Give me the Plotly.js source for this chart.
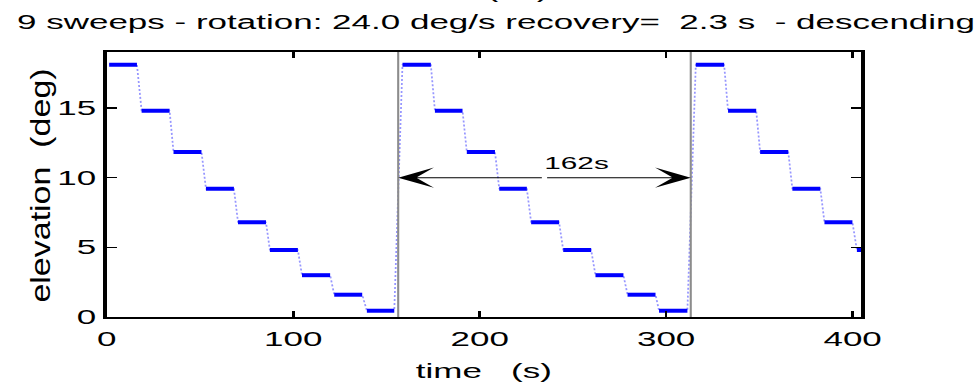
<!DOCTYPE html>
<html>
<head>
<meta charset="utf-8">
<script src="https://cdn.plot.ly/plotly-3.0.1.min.js"></script>
<style>
  html, body { margin: 0; padding: 0; overflow: hidden; background: #fff; }
  #wrap { width: 975px; height: 382px; overflow: hidden; }
  #chart { transform-origin: 0 0; }
</style>
</head>
<body>
<div id="wrap"><div id="chart"></div></div>
<script>
// ---- data ----
const stepStart = [1.3, 18.7, 35.8, 53.2, 70.4, 87.5, 104.7, 122.0, 139.5,
                   158.6, 176.0, 193.1, 210.5, 227.6, 244.8, 262.1, 279.3, 296.2,
                   315.9, 333.2, 350.4, 367.7, 384.9, 402.3];
const stepEnd   = [16.2, 33.7, 50.8, 68.2, 85.4, 102.5, 119.8, 137.0, 154.2,
                   173.8, 190.8, 208.2, 225.3, 242.6, 259.8, 277.1, 294.3, 311.4,
                   331.1, 348.3, 365.5, 382.7, 399.9, 417.0];
const stepElev  = [18.1, 14.8, 11.85, 9.2, 6.8, 4.8, 3.0, 1.6, 0.45,
                   18.1, 14.8, 11.85, 9.2, 6.8, 4.8, 3.0, 1.6, 0.45,
                   18.1, 14.8, 11.85, 9.2, 6.8, 4.8];
const volumeStart = [156.3, 313.2];
const arrowY = 10;
const periodLabel = "162s";
const xTicks = [0, 100, 200, 300, 400];
const yTicks = [0, 5, 10, 15];
const titleText = "9 sweeps - rotation: 24.0 deg/s recovery=&nbsp;&nbsp;2.3 s&nbsp;&nbsp;- descending";

// ---- geometry (horizontal stretch of the reference image) ----
const K = 1.75;
const W = 975 / K, H = 382;
document.getElementById('chart').style.transform = 'scaleX(' + K + ')';

// build series
const xDot = [], yDot = [], xThick = [], yThick = [];
for (let i = 0; i < stepStart.length; i++) {
  xDot.push(stepStart[i], stepEnd[i]);
  yDot.push(stepElev[i], stepElev[i]);
  xThick.push(stepStart[i], stepEnd[i], null);
  yThick.push(stepElev[i], stepElev[i], null);
}

const fam = 'Liberation Sans, Arial, sans-serif';
const font = {family: fam, color: '#000', size: 20};

const traces = [
  {x: xDot, y: yDot, mode: 'lines', type: 'scatter',
   line: {color: 'rgb(150,150,255)', width: 1, dash: '2px,2px'}, hoverinfo: 'skip'},
  {x: xThick, y: yThick, mode: 'lines', type: 'scatter',
   line: {color: '#0000ff', width: 4}, connectgaps: false, hoverinfo: 'skip'}
];

const shapes = volumeStart.map(v => ({
  type: 'line', xref: 'x', yref: 'paper', x0: v, x1: v, y0: 0, y1: 1,
  line: {color: '#8c8c8c', width: 1.2}
}));

const mid = (volumeStart[0] + volumeStart[1]) / 2;
const annotations = [
  {x: volumeStart[0], y: arrowY, ax: mid, ay: arrowY, xref: 'x', yref: 'y', axref: 'x', ayref: 'y',
   text: '', showarrow: true, arrowhead: 3, arrowsize: 3.4, arrowwidth: 1, arrowcolor: '#000', standoff: 0},
  {x: volumeStart[1], y: arrowY, ax: mid, ay: arrowY, xref: 'x', yref: 'y', axref: 'x', ayref: 'y',
   text: '', showarrow: true, arrowhead: 3, arrowsize: 3.4, arrowwidth: 1, arrowcolor: '#000', standoff: 0},
  {x: 252.3, y: 11.05, xref: 'x', yref: 'y', text: periodLabel, showarrow: false,
   font: {family: fam, size: 17, color: '#000'}, xanchor: 'center', yanchor: 'middle'},
  {x: 531 / 975, y: 1, xref: 'paper', yref: 'paper', yshift: 48, text: '( a )', showarrow: false,
   font: {family: fam, size: 20, color: '#000'}, xanchor: 'center', yanchor: 'bottom'}
];

const axisCommon = {
  showline: true, linecolor: '#000', linewidth: 2, mirror: 'ticks',
  ticks: 'inside', ticklen: 6, tickwidth: 1.5, tickcolor: '#000',
  showgrid: false, zeroline: false, tickfont: font
};

const layout = {
  width: W, height: H,
  margin: {l: 107.5 / K, r: 113 / K, t: 52, b: 65, pad: 0},
  paper_bgcolor: '#fff', plot_bgcolor: '#fff',
  showlegend: false,
  font: font,
  title: {text: titleText, font: font, x: 496 / 975, xanchor: 'center',
          xref: 'container', yref: 'container', y: 1 - 22 / 382, yanchor: 'middle'},
  xaxis: Object.assign({}, axisCommon, {range: [0, 404.5], tickvals: xTicks, ticktext: xTicks.map(String),
          ticklabelstandoff: 3,
          title: {text: 'time&nbsp;&nbsp;&nbsp;(s)', font: font, standoff: 16}}),
  yaxis: Object.assign({}, axisCommon, {range: [0, 19.02], tickvals: yTicks, ticktext: yTicks.map(String),
          title: {text: 'elevation&nbsp;&nbsp;(deg)', font: {family: fam, size: 34, color: '#000'}, standoff: 8}}),
  shapes: shapes,
  annotations: annotations
};

Plotly.newPlot('chart', traces, layout, {displayModeBar: false, staticPlot: true}).then(() => {
  // the reference's rotated y label is not stretched like the horizontal texts:
  // undo most of the horizontal stretch on it and place it where the reference has it
  const el = document.querySelector('.ytitle');
  if (el) {
    let g = el.parentNode;
    if (g && g.removeAttribute) g.removeAttribute('transform');
    const bb = el.getBBox();
    const bcx = bb.x + bb.width / 2, bcy = bb.y + bb.height / 2;
    const s = 0.80 / K;
    const TX = 40.5 / K, TY = 185.5;
    el.setAttribute('transform',
      'translate(' + TX + ',' + TY + ') scale(' + s + ',1) rotate(-90) translate(' + (-bcx) + ',' + (-bcy) + ')');
  }
});
</script>
</body>
</html>
